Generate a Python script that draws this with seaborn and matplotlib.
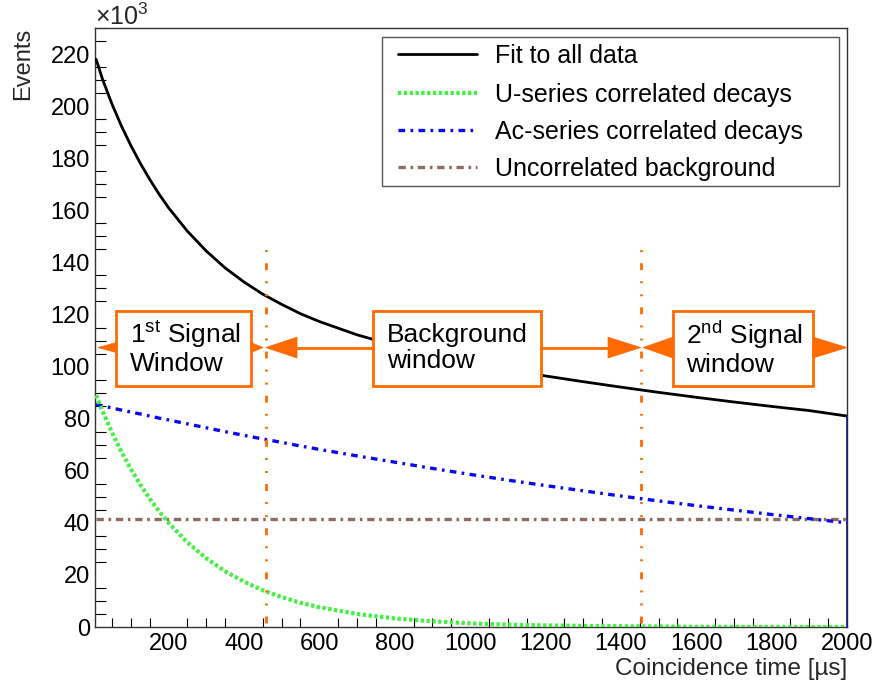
import matplotlib
matplotlib.use("Agg")
import matplotlib.pyplot as plt
import seaborn as sns
import pandas as pd
from matplotlib.patches import Rectangle, Polygon
from matplotlib.ticker import MultipleLocator

# ---------------- data ----------------
time_us = [8, 25, 50, 75, 100, 125, 150, 175, 200, 250, 300, 350, 400, 450, 500,
           550, 600, 700, 800, 900, 1000, 1100, 1200, 1300, 1400, 1500, 1600,
           1700, 1800, 1900, 2000]
fit_all = [218.0, 210.3, 200.8, 192.4, 184.9, 178.1, 171.9, 166.2, 161.0, 152.0,
           144.4, 137.9, 132.5, 127.8, 123.9, 120.3, 117.3, 112.2, 108.1, 104.6,
           101.5, 98.8, 96.4, 94.2, 92.1, 90.1, 88.2, 86.4, 84.7, 83.1, 81.0]
u_series = [89.0, 82.9, 74.7, 67.3, 60.7, 54.7, 49.3, 44.4, 40.0, 32.5, 26.4, 21.4,
            17.4, 14.1, 11.5, 9.3, 7.6, 5.0, 3.3, 2.2, 1.4, 0.9, 0.6, 0.4, 0.3,
            0.2, 0.1, 0.05, 0.05, 0.02, 0.02]
ac_series = [85.5, 84.9, 84.1, 83.3, 82.5, 81.8, 81.0, 80.2, 79.5, 78.0, 76.5, 75.0,
             73.6, 72.2, 70.9, 69.5, 68.2, 65.7, 63.3, 60.9, 58.6, 56.4, 54.3, 52.3,
             50.3, 48.4, 46.6, 44.9, 43.2, 41.6, 40.0]
bg_time = [8, 2000]
uncorr_bg = [41.5, 41.5]

window_edges = [458, 1453]
window_line_top = 147

legend_labels = ["Fit to all data", "U-series correlated decays",
                 "Ac-series correlated decays", "Uncorrelated background"]
box_texts = [r"1$^{\mathrm{st}}$ Signal" + "\nWindow", "Background\nwindow",
             r"2$^{\mathrm{nd}}$ Signal" + "\nwindow"]
x_ticks = [200, 400, 600, 800, 1000, 1200, 1400, 1600, 1800, 2000]
y_ticks = [0, 20, 40, 60, 80, 100, 120, 140, 160, 180, 200, 220]

# ---------------- style ----------------
sns.set_theme(style="white")
plt.rcParams['font.family'] = ['Liberation Sans', 'DejaVu Sans']
plt.rcParams['mathtext.fontset'] = 'custom'
plt.rcParams['mathtext.rm'] = 'Liberation Sans'
plt.rcParams['mathtext.it'] = 'Liberation Sans:italic'
plt.rcParams['mathtext.bf'] = 'Liberation Sans:bold'

W, H = 877, 682
fig = plt.figure(figsize=(W / 100, H / 100), dpi=100)
AX_L, AX_R, AX_T, AX_B = 95, 847, 28, 627
ax = fig.add_axes([AX_L / W, 1 - AX_B / H, (AX_R - AX_L) / W, (AX_B - AX_T) / H])

GREEN = '#44f044'
BLUE = '#0a0af0'
BROWN = '#8c6d62'
ORANGE = '#ff6a00'
NAVY = '#1a1a8c'

df = pd.DataFrame({"t": time_us, "fit": fit_all, "u": u_series, "ac": ac_series})
bg = pd.DataFrame({"t": bg_time, "bg": uncorr_bg})

u_ls = (0, (0.8, 0.6))
ac_ls = (0, (2.0, 1.6, 0.8, 1.6))
bg_ls = (0, (2.2, 1.4, 0.8, 1.4))

sns.lineplot(data=bg, x="t", y="bg", ax=ax, color=BROWN, lw=2.4, linestyle=bg_ls,
             estimator=None, sort=False, zorder=3)
sns.lineplot(data=df, x="t", y="ac", ax=ax, color=BLUE, lw=2.4, linestyle=ac_ls,
             estimator=None, sort=False, zorder=3)
sns.lineplot(data=df, x="t", y="u", ax=ax, color=GREEN, lw=3.0, linestyle=u_ls,
             estimator=None, sort=False, zorder=3)
# histogram outline underneath the fit (navy), closing edge at the last bin
sns.lineplot(data=df, x="t", y="fit", ax=ax, color=NAVY, lw=1.0,
             estimator=None, sort=False, zorder=3)
ax.plot([time_us[-1], time_us[-1]], [fit_all[-1], 0], color=NAVY, lw=1.2, zorder=3,
        clip_on=False)
sns.lineplot(data=df, x="t", y="fit", ax=ax, color='black', lw=2.0,
             estimator=None, sort=False, zorder=4)

# window boundary lines
win_ls = (0, (2.5, 4.0, 0.7, 4.0, 0.7, 4.0))
for xe in window_edges:
    ax.plot([xe, xe], [1.5, window_line_top], color=ORANGE, lw=2.0, linestyle=win_ls,
            zorder=5)

ax.set_xlim(5, 2000)
ax.set_ylim(0, 230)
ax.set_xlabel("")
ax.set_ylabel("")
ax.set_xticks(x_ticks)
ax.set_yticks(y_ticks)
ax.xaxis.set_minor_locator(MultipleLocator(50))
ax.yaxis.set_minor_locator(MultipleLocator(5))
ax.tick_params(axis='both', which='both', direction='in', color='black', width=0.8,
               labelsize=17, labelcolor='black', top=False, right=False)
ax.tick_params(axis='y', which='major', length=16.3, pad=3.6)
ax.tick_params(axis='y', which='minor', length=7.9, left=True)
ax.tick_params(axis='x', which='major', length=12.5, pad=4)
ax.tick_params(axis='x', which='minor', length=6.5, bottom=True)
for s in ax.spines.values():
    s.set_color('#333333')
    s.set_linewidth(1.0)

# ---------------- window boxes and arrows ----------------
arrow_y = 107.3
box_y0, box_y1 = 92.7, 121.5
boxes = [(61, 419), (743, 1188), (1538, 1910)]
text_x = [98, 780, 1573]
for (x0, x1), tx, txt in zip(boxes, text_x, box_texts):
    ax.add_patch(Rectangle((x0, box_y0), x1 - x0, box_y1 - box_y0, facecolor='white',
                           edgecolor=ORANGE, lw=2.0, zorder=6))
    ax.text(tx, arrow_y, txt, fontsize=19, ha='left', va='center', linespacing=1.1,
            color='black', zorder=7)


def head(base, tip, half):
    ax.add_patch(Polygon([(base, arrow_y + half), (base, arrow_y - half), (tip, arrow_y)],
                         closed=True, facecolor=ORANGE, edgecolor=ORANGE, lw=0.5,
                         zorder=6, clip_on=False))


head(61, 13, 1.9)
head(419, 451, 1.9)
head(541, 458, 4.0)
ax.plot([541, 743], [arrow_y, arrow_y], color=ORANGE, lw=2.0, zorder=6)
ax.plot([1188, 1366], [arrow_y, arrow_y], color=ORANGE, lw=2.0, zorder=6)
head(1366, 1453, 4.0)
head(1538, 1459, 4.0)
head(1910, 2000, 4.0)

# ---------------- legend (manual, ROOT style) ----------------
def fx(px):
    return (px - AX_L) / (AX_R - AX_L)


def fy(py):
    return (AX_B - py) / (AX_B - AX_T)


ax.add_patch(Rectangle((fx(381.7), fy(186)), fx(839) - fx(381.7), fy(36.7) - fy(186),
                       transform=ax.transAxes, facecolor='white', edgecolor='#555555',
                       lw=1.0, zorder=8))
leg_styles = [dict(color='black', lw=2.0, linestyle='-'),
              dict(color=GREEN, lw=3.0, linestyle=u_ls),
              dict(color=BLUE, lw=2.4, linestyle=ac_ls),
              dict(color=BROWN, lw=2.4, linestyle=bg_ls)]
row_y = [54.3, 92.7, 130.0, 166.7]
for ry, lab, st in zip(row_y, legend_labels, leg_styles):
    ax.plot([fx(398), fx(477)], [fy(ry), fy(ry)], transform=ax.transAxes, zorder=9,
            clip_on=False, **st)
    ax.text(fx(495), fy(ry + 9), lab, transform=ax.transAxes, fontsize=18,
            ha='left', va='baseline', color='black', zorder=9)

# ---------------- axis titles ----------------
fig.text(23 / W, 1 - 28 / H, "Events", rotation=90, ha='center', va='top', fontsize=17)
fig.text(AX_R / W, 1 - 669 / H, "Coincidence time [µs]", ha='right', va='center',
         fontsize=17.5)
fig.text(AX_L / W, 1 - 25 / H, r"×10$^{3}$", ha='left', va='baseline', fontsize=18)

fig.savefig("out.png", dpi=100, facecolor='white')
